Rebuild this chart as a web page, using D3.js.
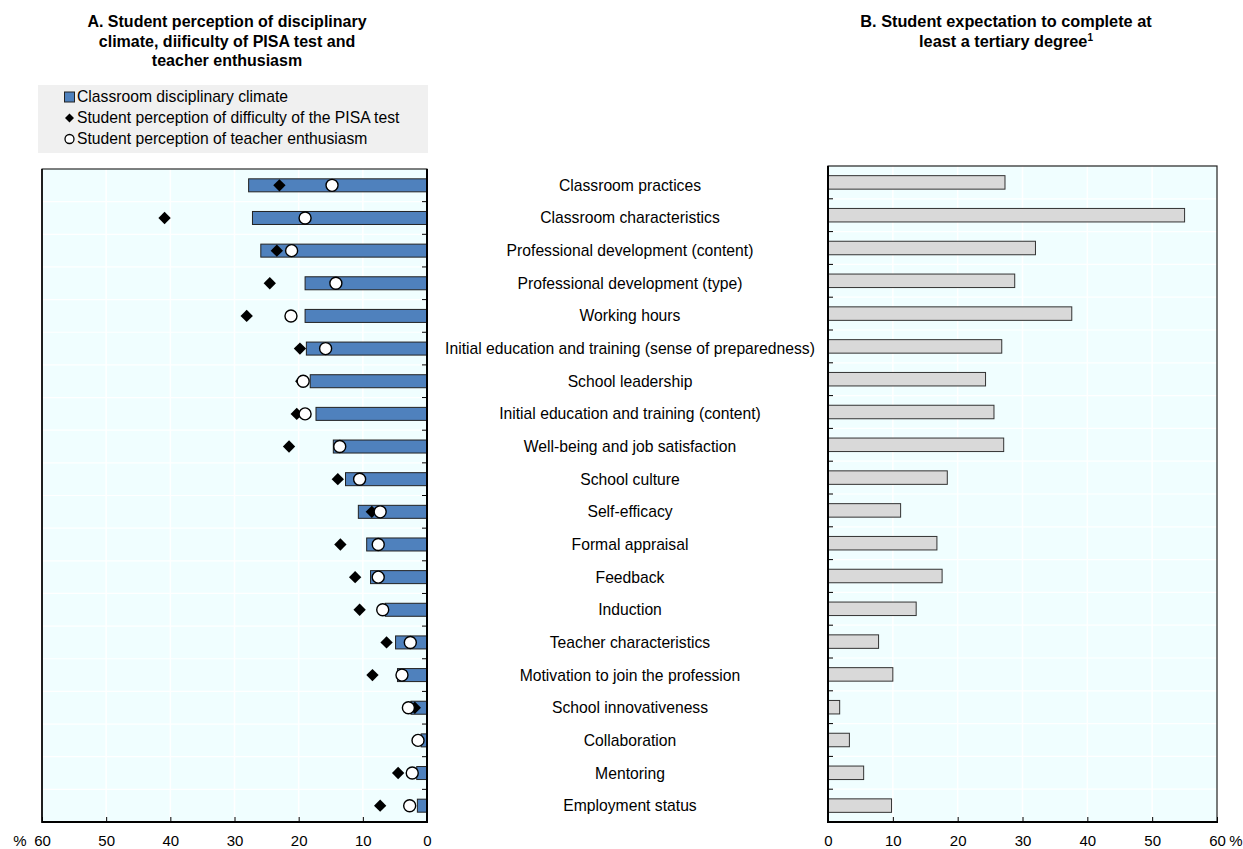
<!DOCTYPE html>
<html><head><meta charset="utf-8">
<script src="https://cdn.jsdelivr.net/npm/d3@7"></script>
<style>
html,body{margin:0;padding:0;background:#fff;}
text{font-family:"Liberation Sans Narrow","Arial Narrow","Liberation Sans",Arial,sans-serif;fill:#000;}
</style></head>
<body>
<svg id="c" width="1243" height="849"></svg>
<script>
const categories = ["Classroom practices","Classroom characteristics","Professional development (content)","Professional development (type)","Working hours","Initial education and training (sense of preparedness)","School leadership","Initial education and training (content)","Well-being and job satisfaction","School culture","Self-efficacy","Formal appraisal","Feedback","Induction","Teacher characteristics","Motivation to join the profession","School innovativeness","Collaboration","Mentoring","Employment status"];
const disciplinaryClimate = [27.8,27.2,25.9,19.0,19.0,18.8,18.2,17.3,14.6,12.7,10.7,9.4,8.8,6.5,4.9,4.6,2.5,0.9,1.6,1.5];
const pisaDifficulty = [23.0,40.9,23.4,24.5,28.1,19.8,19.6,20.3,21.5,13.9,8.6,13.5,11.2,10.5,6.3,8.5,1.9,1.4,4.5,7.3];
const teacherEnthusiasm = [14.8,19.0,21.1,14.2,21.2,15.8,19.3,19.0,13.6,10.5,7.3,7.6,7.6,6.9,2.6,3.9,2.9,1.4,2.3,2.7];
const tertiaryExpectation = [27.3,55.0,32.0,28.8,37.6,26.8,24.3,25.6,27.1,18.4,11.2,16.8,17.6,13.6,7.8,10.0,1.8,3.3,5.5,9.8];
const xTicks = [0,10,20,30,40,50,60];
const legendLabels = ["Classroom disciplinary climate","Student perception of difficulty of the PISA test","Student perception of teacher enthusiasm"];

const svg = d3.select("#c");
const BG = "#f0feff", BLUE = "#4f81bd", GREY = "#d9d9d9";

function panel(x0, x1, y0, y1, reversed){
  const g = svg.append("g");
  const x = d3.scaleLinear().domain(reversed ? [60,0] : [0,60]).range([x0,x1]);
  const y = d3.scaleBand().domain(categories).range([y0,y1]);
  g.append("rect").attr("x",x0).attr("y",y0).attr("width",x1-x0).attr("height",y1-y0).attr("fill",BG);
  g.selectAll(".vg").data(xTicks.slice(1,-1)).join("line")
    .attr("x1",d=>x(d)).attr("x2",d=>x(d)).attr("y1",y0).attr("y2",y1)
    .attr("stroke","#fff").attr("stroke-width",1.5);
  g.selectAll(".hg").data(categories.slice(1)).join("line")
    .attr("x1",x0).attr("x2",x1).attr("y1",d=>y(d)).attr("y2",d=>y(d))
    .attr("stroke","#fff").attr("stroke-width",1.2);
  return {g,x,y};
}

// Panel A
const A = panel(42, 427, 169, 822, true);
const bhA = 13;
A.g.selectAll(".bar").data(categories).join("rect")
  .attr("x",(d,i)=>A.x(disciplinaryClimate[i]))
  .attr("width",(d,i)=>A.x(0)-A.x(disciplinaryClimate[i]))
  .attr("y",d=>A.y(d)+A.y.bandwidth()/2-bhA/2).attr("height",bhA)
  .attr("fill",BLUE).attr("stroke","#222").attr("stroke-width",1);
A.g.selectAll(".dia").data(categories).join("path")
  .attr("d",d3.symbol().type(d3.symbolSquare).size(76))
  .attr("transform",(d,i)=>`translate(${A.x(pisaDifficulty[i])},${A.y(d)+A.y.bandwidth()/2}) rotate(45)`)
  .attr("fill","#000");
A.g.selectAll(".cir").data(categories).join("circle")
  .attr("cx",(d,i)=>A.x(teacherEnthusiasm[i])).attr("cy",d=>A.y(d)+A.y.bandwidth()/2)
  .attr("r",6).attr("fill","#fff").attr("stroke","#000").attr("stroke-width",1.4);
A.g.append("rect").attr("x",42).attr("y",169).attr("width",385).attr("height",653)
  .attr("fill","none").attr("stroke","#000").attr("stroke-width",1);
A.g.append("line").attr("x1",42).attr("x2",428).attr("y1",822).attr("y2",822).attr("stroke","#000").attr("stroke-width",2);
A.g.append("line").attr("x1",427).attr("x2",427).attr("y1",169).attr("y2",823).attr("stroke","#000").attr("stroke-width",2);
A.g.append("line").attr("x1",42).attr("x2",42).attr("y1",169).attr("y2",823).attr("stroke","#000").attr("stroke-width",1.5);
A.g.selectAll(".ct").data(categories.slice(1)).join("line")
  .attr("x1",422).attr("x2",427).attr("y1",d=>A.y(d)).attr("y2",d=>A.y(d)).attr("stroke","#000").attr("stroke-width",1);
const axA = svg.append("g").attr("transform","translate(0,822)")
  .call(d3.axisBottom(A.x).tickValues(xTicks).tickSize(-5).tickPadding(13).tickFormat(d3.format("d")));
axA.select(".domain").remove();
axA.selectAll("line").attr("stroke","#000").attr("stroke-width",1);
axA.selectAll("text").attr("font-size",15).attr("fill","#000");
svg.append("text").attr("x",20).attr("y",846).attr("font-size",15).attr("text-anchor","middle").text("%");

// Panel B
const B = panel(828, 1217, 166, 822, false);
const bhB = 13.5;
B.g.selectAll(".bar").data(categories).join("rect")
  .attr("x",B.x(0))
  .attr("width",(d,i)=>B.x(tertiaryExpectation[i])-B.x(0))
  .attr("y",d=>B.y(d)+B.y.bandwidth()/2-bhB/2).attr("height",bhB)
  .attr("fill",GREY).attr("stroke","#333").attr("stroke-width",1);
B.g.append("rect").attr("x",828).attr("y",166).attr("width",389).attr("height",656)
  .attr("fill","none").attr("stroke","#222").attr("stroke-width",1.2);
B.g.append("line").attr("x1",827).attr("x2",1218).attr("y1",822).attr("y2",822).attr("stroke","#000").attr("stroke-width",2);
B.g.append("line").attr("x1",828).attr("x2",828).attr("y1",166).attr("y2",823).attr("stroke","#000").attr("stroke-width",2);
B.g.selectAll(".ct").data(categories.slice(1)).join("line")
  .attr("x1",828).attr("x2",833).attr("y1",d=>B.y(d)).attr("y2",d=>B.y(d)).attr("stroke","#000").attr("stroke-width",1);
const axB = svg.append("g").attr("transform","translate(0,822)")
  .call(d3.axisBottom(B.x).tickValues(xTicks).tickSize(-5).tickPadding(13).tickFormat(d3.format("d")));
axB.select(".domain").remove();
axB.selectAll("line").attr("stroke","#000").attr("stroke-width",1);
axB.selectAll("text").attr("font-size",15).attr("fill","#000");
svg.append("text").attr("x",1236).attr("y",846).attr("font-size",15).attr("text-anchor","middle").text("%");

// category labels
svg.selectAll(".cl").data(categories).join("text")
  .attr("x",630).attr("y",d=>A.y(d)+A.y.bandwidth()/2).attr("dy","0.35em")
  .attr("text-anchor","middle").attr("font-size",15.7).text(d=>d);

// titles
const tA = ["A. Student perception of disciplinary","climate, diificulty of PISA test and","teacher enthusiasm"];
svg.append("text").attr("text-anchor","middle").attr("font-size",16).attr("font-weight","bold")
  .selectAll("tspan").data(tA).join("tspan").attr("x",227).attr("y",(d,i)=>27+i*19.5).text(d=>d);
const tB = svg.append("text").attr("text-anchor","middle").attr("font-size",16.3).attr("font-weight","bold");
tB.append("tspan").attr("x",1006).attr("y",27).text("B. Student expectation to complete at");
tB.append("tspan").attr("x",1006).attr("y",46.5).text("least a tertiary degree");
tB.append("tspan").attr("font-size",10).attr("dy",-6).text("1");

// legend
svg.append("rect").attr("x",38).attr("y",85).attr("width",390).attr("height",68).attr("fill","#f0f0f0");
const lg = svg.append("g");
const ly = [97, 118, 139];
lg.append("rect").attr("x",64.5).attr("y",ly[0]-5).attr("width",10).attr("height",10).attr("fill",BLUE).attr("stroke","#222").attr("stroke-width",1);
lg.append("path").attr("d",d3.symbol().type(d3.symbolSquare).size(40)).attr("transform",`translate(69.5,${ly[1]}) rotate(45)`).attr("fill","#000");
lg.append("circle").attr("cx",69.5).attr("cy",ly[2]).attr("r",4.5).attr("fill","#fff").attr("stroke","#000").attr("stroke-width",1.3);
lg.selectAll(".lt").data(legendLabels).join("text").attr("x",77).attr("y",(d,i)=>ly[i]).attr("dy","0.35em")
  .attr("font-size",15.7).text(d=>d);
</script>
</body></html>
